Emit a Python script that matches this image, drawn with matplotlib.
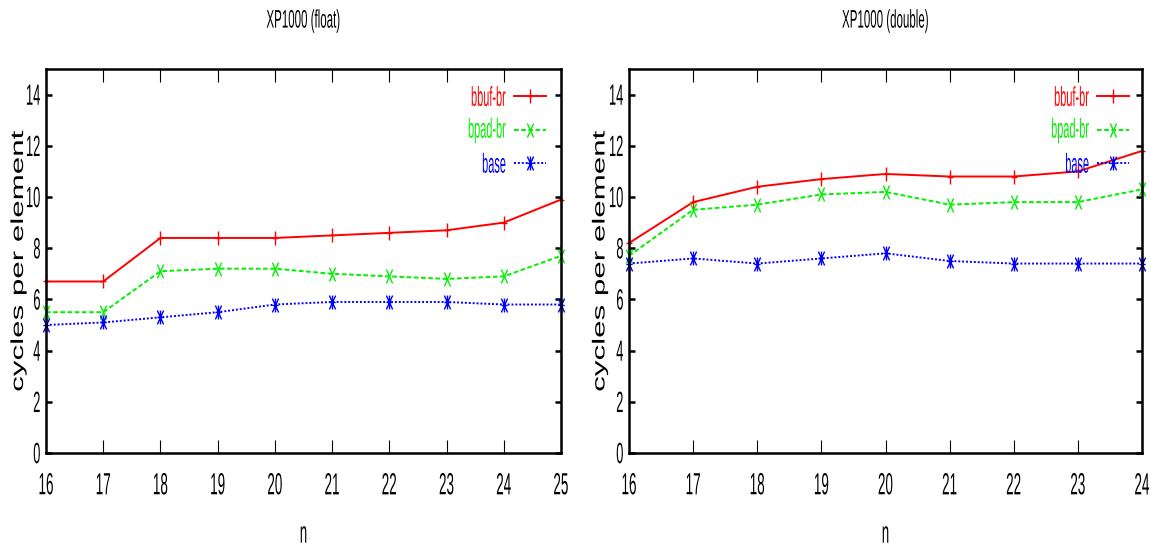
import matplotlib
matplotlib.use("Agg")
import matplotlib.pyplot as plt
import numpy as np
from matplotlib.path import Path
from matplotlib.transforms import Affine2D
from matplotlib.patheffects import AbstractPathEffect

# ---------------- data ----------------
n_float = [16, 17, 18, 19, 20, 21, 22, 23, 24, 25]
bbuf_float = [6.7, 6.7, 8.4, 8.4, 8.4, 8.5, 8.6, 8.7, 9.0, 9.9]
bpad_float = [5.5, 5.5, 7.1, 7.2, 7.2, 7.0, 6.9, 6.8, 6.9, 7.7]
base_float = [5.0, 5.1, 5.3, 5.5, 5.8, 5.9, 5.9, 5.9, 5.8, 5.8]

n_double = [16, 17, 18, 19, 20, 21, 22, 23, 24]
bbuf_double = [8.2, 9.8, 10.4, 10.7, 10.9, 10.8, 10.8, 11.0, 11.8]
bpad_double = [7.7, 9.5, 9.7, 10.1, 10.2, 9.7, 9.8, 9.8, 10.3]
base_double = [7.4, 7.6, 7.4, 7.6, 7.8, 7.5, 7.4, 7.4, 7.4]

series_labels = ["bbuf-br", "bpad-br", "base"]
titles = ["XP1000 (float)", "XP1000 (double)"]
y_ticks = [0, 2, 4, 6, 8, 10, 12, 14]
x_label = "n"
y_label = "cycles per element"


# ------------- stretched text effect (scales glyphs about their ink centre) -------------
class Stretch(AbstractPathEffect):
    def __init__(self, sx=1.0, sy=1.0):
        super().__init__()
        self.sx, self.sy = sx, sy

    def draw_path(self, renderer, gc, tpath, affine, rgbFace=None):
        ext = tpath.get_extents()
        cx = 0.5 * (ext.x0 + ext.x1)
        cy = 0.5 * (ext.y0 + ext.y1)
        t = (Affine2D().translate(-cx, -cy).scale(self.sx, self.sy)
             .translate(cx, cy) + affine)
        renderer.draw_path(gc, tpath, t, rgbFace)


TALL = Stretch(1.0, 2.27)

# ------------- markers (tall, gnuplot-like) -------------
w = 0.45
M, L = Path.MOVETO, Path.LINETO
plus_m = Path([(0, -1), (0, 1), (-w, 0), (w, 0)], [M, L, M, L])
x_m = Path([(-w, -1), (w, 1), (-w, 1), (w, -1)], [M, L, M, L])
star_m = Path([(0, -1), (0, 1), (-w, 0), (w, 0), (-w, -1), (w, 1), (-w, 1), (w, -1)],
              [M, L, M, L, M, L, M, L])

FONT = "Liberation Sans"
plt.rcParams["font.family"] = [FONT, "DejaVu Sans"]

fig = plt.figure(figsize=(11.5, 5.52), dpi=100)
W, H = 1150, 552

panels = [
    dict(rect=(46, 69, 561, 453), n=n_float,
         ys=[bbuf_float, bpad_float, base_float], xmax=25, title=titles[0],
         ylab_x=18.5, leg=(0.971, 0.94)),
    dict(rect=(629, 69, 1142, 453), n=n_double,
         ys=[bbuf_double, bpad_double, base_double], xmax=24, title=titles[1],
         ylab_x=600, leg=(0.975, 0.94)),
]

styles = [
    dict(color="#ff0000", linestyle="-", marker=plus_m),
    dict(color="#00f000", linestyle=(0, (2.4, 1.3)), marker=x_m),
    dict(color="#0000ff", linestyle=(0, (1.0, 1.0)), marker=star_m),
]

for p in panels:
    x0, y0, x1, y1 = p["rect"]
    ax = fig.add_axes([x0 / W, 1 - y1 / H, (x1 - x0) / W, (y1 - y0) / H])
    for ys, st, lab in zip(p["ys"], styles, series_labels):
        ax.plot(p["n"], ys, color=st["color"], linestyle=st["linestyle"],
                linewidth=1.4, marker=st["marker"], markersize=10,
                markeredgewidth=1.0, label=lab, clip_on=False)
    ax.set_xlim(16, p["xmax"])
    ax.set_ylim(0, 15)
    ax.set_xticks(p["n"])
    ax.set_yticks(y_ticks)
    ax.tick_params(axis="x", direction="in", length=9.5, width=0.8, pad=19,
                   top=True, labelsize=9.7)
    ax.tick_params(axis="y", direction="in", length=4.5, width=1.8, pad=4,
                   right=True, labelsize=9.3)
    for sp in ax.spines.values():
        sp.set_linewidth(1.8)
    for t in ax.get_xticklabels() + ax.get_yticklabels():
        t.set_path_effects([TALL])

    leg = ax.legend(loc="upper right", bbox_to_anchor=p["leg"], frameon=False,
                    markerfirst=False, labelcolor="linecolor", fontsize=7.9,
                    handlelength=2.9, handletextpad=0.75, labelspacing=2.13,
                    borderpad=0, borderaxespad=0, numpoints=1)
    for t in leg.get_texts():
        t.set_path_effects([Stretch(1.0, 2.5)])

    cx = (x0 + x1) / 2
    fig.text(cx / W, 1 - 21 / H, p["title"], ha="center", va="center",
             fontsize=8.3, path_effects=[Stretch(1.0, 2.2)])
    fig.text(cx / W, 1 - 535 / H, x_label, ha="center", va="center",
             fontsize=9.5, path_effects=[Stretch(1.0, 2.33)])
    fig.text(p["ylab_x"] / W, 1 - ((y0 + y1) / 2) / H, y_label, rotation=90,
             ha="center", va="center", fontsize=12.6,
             path_effects=[Stretch(1.79, 1.0)])

fig.savefig("out.png", dpi=100)
